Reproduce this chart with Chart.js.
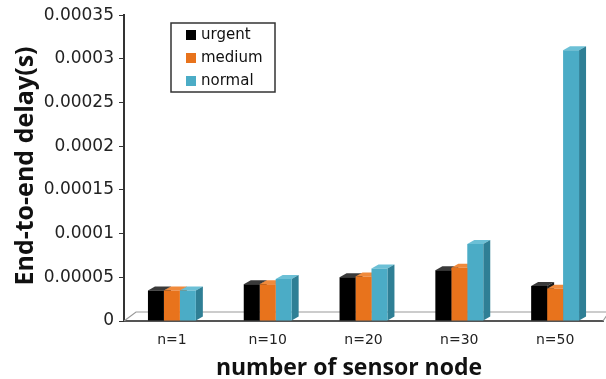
<!DOCTYPE html>
<html>
<head>
<meta charset="utf-8">
<script src="https://cdn.jsdelivr.net/npm/chart.js@4"></script>
<style>
  html, body { margin: 0; padding: 0; background: #fff; }
  #wrap { width: 606px; height: 379px; }
</style>
</head>
<body>
<div id="wrap"><canvas id="delayChart" width="606" height="379"></canvas></div>
<script>
var categories = ['n=1', 'n=10', 'n=20', 'n=30', 'n=50'];
var seriesNames = ['urgent', 'medium', 'normal'];
var urgent = [0.000035, 0.000042, 0.000050, 0.000058, 0.000040];
var medium = [0.000035, 0.000042, 0.000051, 0.000061, 0.000037];
var normal = [0.000035, 0.000048, 0.000060, 0.000088, 0.000310];
var yTicks = [0, 0.00005, 0.0001, 0.00015, 0.0002, 0.00025, 0.0003, 0.00035];
var xTitle = 'number of sensor node';
var yTitle = 'End-to-end delay(s)';

var fronts = ['#000000', '#e8731c', '#4bacc6'];
var tops = ['#3a3a3a', '#f08a3c', '#6cc0d6'];
var sides = ['#1a1a1a', '#b5560f', '#2f7f95'];

var DEPTH = 7, LIFT = 4;

// fake 3D: top and side faces drawn before the front faces so the
// next bar's front covers what it should
var bars3d = {
  id: 'bars3d',
  beforeDatasetsDraw: function (chart) {
    var ctx = chart.ctx;
    var area = chart.chartArea;
    ctx.save();
    // floor
    ctx.strokeStyle = '#9a9a9a';
    ctx.lineWidth = 1.2;
    ctx.beginPath();
    ctx.moveTo(area.left, area.bottom);
    ctx.lineTo(area.left + 12, area.bottom - 9);
    ctx.lineTo(area.right + 6, area.bottom - 9);
    ctx.lineTo(area.right, area.bottom);
    ctx.stroke();
    chart.data.datasets.forEach(function (ds, i) {
      var meta = chart.getDatasetMeta(i);
      meta.data.forEach(function (bar) {
        var l = bar.x - bar.width / 2, r = bar.x + bar.width / 2;
        ctx.fillStyle = tops[i];
        ctx.beginPath();
        ctx.moveTo(l, bar.y);
        ctx.lineTo(l + DEPTH, bar.y - LIFT);
        ctx.lineTo(r + DEPTH, bar.y - LIFT);
        ctx.lineTo(r, bar.y);
        ctx.closePath();
        ctx.fill();
        ctx.fillStyle = sides[i];
        ctx.beginPath();
        ctx.moveTo(r, bar.y);
        ctx.lineTo(r + DEPTH, bar.y - LIFT);
        ctx.lineTo(r + DEPTH, bar.base - LIFT);
        ctx.lineTo(r, bar.base);
        ctx.closePath();
        ctx.fill();
      });
    });
    ctx.restore();
  }
};

// legend box and axis titles (titles sit off-centre in the original)
var decorations = {
  id: 'decorations',
  afterDraw: function (chart) {
    var ctx = chart.ctx;
    var x = 171, y = 23, w = 104, h = 69;
    ctx.save();
    ctx.strokeStyle = '#333';
    ctx.lineWidth = 1.5;
    ctx.strokeRect(x, y, w, h);
    ctx.font = '15px "DejaVu Sans"';
    ctx.textBaseline = 'middle';
    seriesNames.forEach(function (name, i) {
      var cy = y + 12 + i * 23;
      ctx.fillStyle = fronts[i];
      ctx.fillRect(x + 15, cy - 5, 10, 10);
      ctx.fillStyle = '#111';
      ctx.fillText(name, x + 30, cy);
    });

    ctx.fillStyle = '#111';
    ctx.textAlign = 'center';
    ctx.textBaseline = 'alphabetic';
    ctx.font = 'bold 23px "Open Sans"';
    ctx.fillText(xTitle, 349, 375);

    ctx.translate(33, 166);
    ctx.rotate(-Math.PI / 2);
    ctx.font = 'bold 25px "Open Sans"';
    ctx.fillText(yTitle, 0, 0);
    ctx.restore();
  }
};

new Chart(document.getElementById('delayChart'), {
  type: 'bar',
  data: {
    labels: categories,
    datasets: [urgent, medium, normal].map(function (vals, i) {
      return {
        label: seriesNames[i],
        data: vals,
        backgroundColor: fronts[i],
        borderWidth: 0,
        categoryPercentage: 0.5,
        barPercentage: 1.0
      };
    })
  },
  plugins: [bars3d, decorations],
  options: {
    responsive: false,
    animation: false,
    layout: { padding: { top: 8, right: 3, left: 0, bottom: 0 } },
    plugins: { legend: { display: false }, tooltip: { enabled: false } },
    scales: {
      x: {
        grid: { display: false },
        border: { display: true, color: '#555', width: 2 },
        ticks: { color: '#222', font: { family: 'DejaVu Sans', size: 14 }, padding: 3 },
        afterFit: function (scale) { scale.height = 58; }
      },
      y: {
        min: 0,
        max: 0.00035,
        afterBuildTicks: function (scale) {
          scale.ticks = yTicks.map(function (v) { return { value: v }; });
        },
        grid: { drawOnChartArea: false, drawTicks: true, tickLength: 5, color: '#333' },
        border: { display: true, color: '#333', width: 2 },
        ticks: {
          color: '#222',
          font: { family: 'DejaVu Sans', size: 17 },
          padding: 5,
          callback: function (v) { return String(+Number(v).toFixed(5)); }
        },
        afterFit: function (scale) { scale.width = 124; }
      }
    }
  }
});
</script>
</body>
</html>
